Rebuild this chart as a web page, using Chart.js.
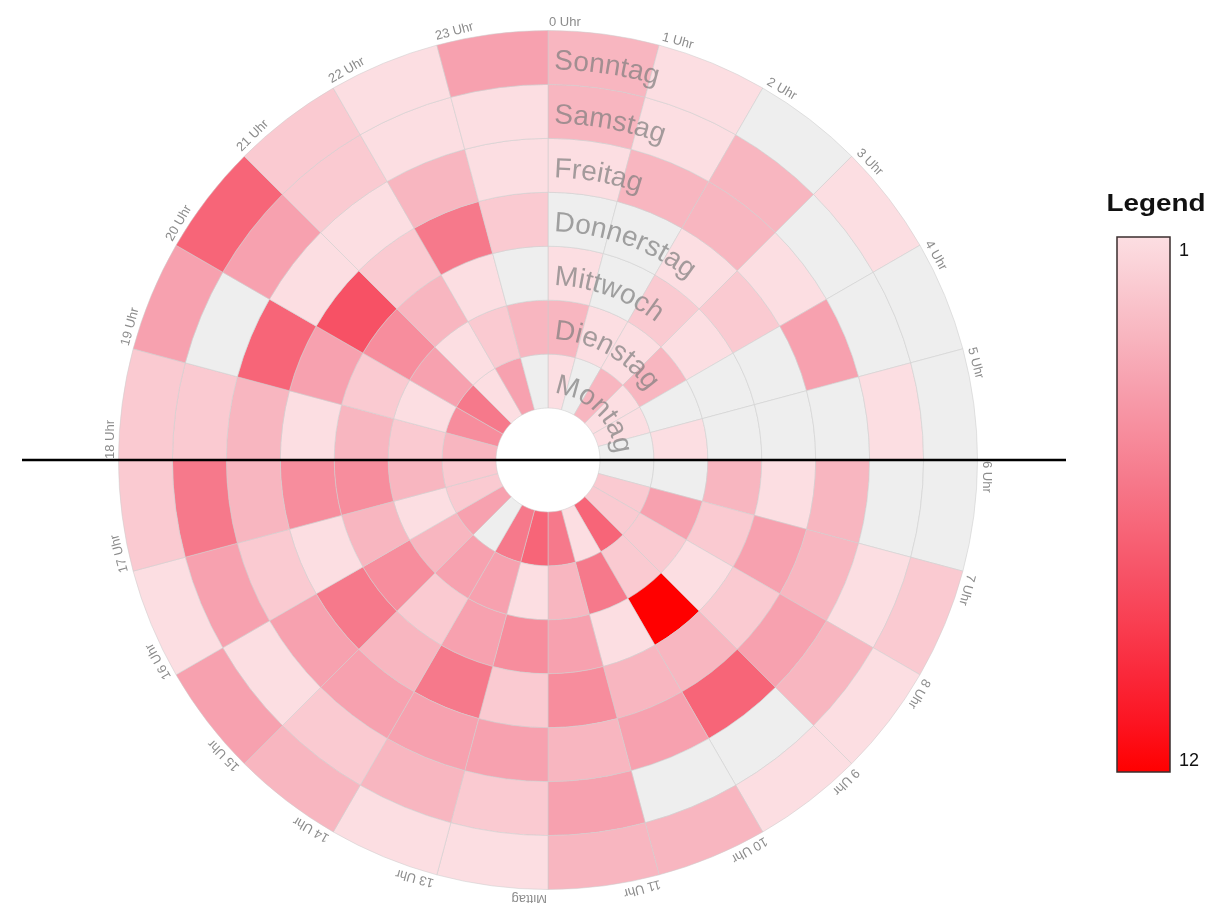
<!DOCTYPE html>
<html lang="de">
<head>
    <meta charset="UTF-8">
    <title>Wochen-Heatmap</title>
    <script src="https://cdn.jsdelivr.net/npm/chart.js"></script>
    <style>
        body {
            margin: 0;
            background: #fff;
            font-family: Arial, 'Liberation Sans', sans-serif;
        }
        .chart-container {
            position: relative;
            width: 1232px;
            height: 903px;
        }
    </style>
</head>
<body>
    <div class="chart-container">
        <canvas id="heatChart"></canvas>
    </div>

    <script>
        const hours = ['0 Uhr', '1 Uhr', '2 Uhr', '3 Uhr', '4 Uhr', '5 Uhr', '6 Uhr', '7 Uhr', '8 Uhr', '9 Uhr', '10 Uhr', '11 Uhr',
                       'Mittag', '13 Uhr', '14 Uhr', '15 Uhr', '16 Uhr', '17 Uhr', '18 Uhr', '19 Uhr', '20 Uhr', '21 Uhr', '22 Uhr', '23 Uhr'];
        // outer ring first (Chart.js draws dataset 0 outermost)
        const days = ['Sonntag', 'Samstag', 'Freitag', 'Donnerstag', 'Mittwoch', 'Dienstag', 'Montag'];

        // counts per hour 0..23, 0 = no entry (grey)
        const sonntag    = [3, 1, 0, 1, 0, 0, 0, 2, 1, 1, 3, 3, 1, 1, 3, 4, 1, 2, 2, 4, 7, 2, 1, 4];
        const samstag    = [3, 1, 3, 0, 0, 1, 0, 1, 3, 0, 0, 4, 2, 3, 2, 1, 4, 6, 2, 0, 4, 2, 1, 1];
        const freitag    = [1, 3, 3, 1, 4, 0, 3, 3, 4, 7, 4, 3, 4, 4, 4, 4, 2, 3, 3, 7, 1, 1, 3, 1];
        const donnerstag = [0, 0, 1, 2, 0, 0, 1, 4, 2, 3, 3, 5, 2, 6, 3, 6, 1, 5, 1, 4, 8, 2, 6, 2];
        const mittwoch   = [1, 0, 2, 1, 0, 0, 3, 2, 1, 12, 1, 4, 5, 4, 2, 5, 3, 5, 3, 2, 5, 3, 1, 0];
        const dienstag   = [3, 1, 1, 3, 0, 1, 0, 4, 2, 2, 6, 3, 1, 4, 4, 3, 1, 3, 2, 1, 4, 1, 2, 3];
        const montag     = [1, 0, 3, 1, 1, 0, 0, 2, 2, 7, 1, 6, 7, 6, 0, 4, 2, 2, 3, 5, 6, 1, 4, 0];

        const dayValues = [sonntag, samstag, freitag, donnerstag, mittwoch, dienstag, montag];
        const legendMin = 1;
        const legendMax = 12;

        function cellColor(v) {
            if (!v) return '#eeeeee';
            const t = (v - legendMin) / (legendMax - legendMin);
            const r = Math.round(252 + 3 * t - 28 * t * (1 - t));
            const g = Math.round(222 * (1 - t));
            const b = Math.round(226 * Math.pow(1 - t, 0.8));
            return `rgb(${r},${g},${b})`;
        }

        const datasets = days.map((day, i) => ({
            label: day,
            data: hours.map(() => 1),
            backgroundColor: dayValues[i].map(cellColor),
            borderColor: 'rgba(205,205,205,0.55)',
            borderWidth: 1,
            hoverOffset: 0
        }));

        const overlay = {
            id: 'overlay',
            afterDatasetsDraw(chart) {
                const ctx = chart.ctx;
                const outer = chart.getDatasetMeta(0).data;
                const cx = outer[0].x;
                const cy = outer[0].y;
                const R = outer[0].outerRadius;

                // day names, curved along each ring
                ctx.save();
                ctx.font = '28px Arial, "Liberation Sans", sans-serif';
                ctx.fillStyle = 'rgba(125,125,125,0.7)';
                ctx.textAlign = 'center';
                ctx.textBaseline = 'alphabetic';
                days.forEach((day, i) => {
                    const arc = chart.getDatasetMeta(i).data[0];
                    const r = arc.innerRadius + 15;
                    let a = arc.startAngle + Math.PI / 2 + 6 / r;
                    for (const ch of day) {
                        const w = ctx.measureText(ch).width;
                        a += w / 2 / r;
                        ctx.save();
                        ctx.translate(cx, cy);
                        ctx.rotate(a);
                        ctx.fillText(ch, 0, -r);
                        ctx.restore();
                        a += w / 2 / r;
                    }
                });
                ctx.restore();

                // hour labels round the outside
                ctx.save();
                ctx.font = '13px Arial, "Liberation Sans", sans-serif';
                ctx.fillStyle = '#8c8c8c';
                ctx.textAlign = 'left';
                ctx.textBaseline = 'alphabetic';
                outer.forEach((arc, i) => {
                    ctx.save();
                    ctx.translate(cx, cy);
                    ctx.rotate(arc.startAngle + Math.PI / 2);
                    ctx.fillText(hours[i], 1, -(R + 5));
                    ctx.restore();
                });
                ctx.restore();

                // horizontal black line
                ctx.save();
                ctx.strokeStyle = '#000';
                ctx.lineWidth = 2.5;
                ctx.beginPath();
                ctx.moveTo(cx - 526, cy);
                ctx.lineTo(cx + 518, cy);
                ctx.stroke();
                ctx.restore();

                // colour legend
                const bx = 1117, by = 237, bw = 53, bh = 535;
                ctx.save();
                const grad = ctx.createLinearGradient(0, by, 0, by + bh);
                for (let v = legendMin; v <= legendMax; v++) {
                    grad.addColorStop((v - legendMin) / (legendMax - legendMin), cellColor(v));
                }
                ctx.fillStyle = grad;
                ctx.fillRect(bx, by, bw, bh);
                ctx.strokeStyle = '#3a2e2e';
                ctx.lineWidth = 1.5;
                ctx.strokeRect(bx, by, bw, bh);

                ctx.fillStyle = '#111';
                ctx.font = 'bold 24px Arial, "Liberation Sans", sans-serif';
                ctx.textAlign = 'center';
                ctx.save();
                ctx.translate(1156, 211);
                ctx.scale(1.16, 1);
                ctx.fillText('Legend', 0, 0);
                ctx.restore();

                ctx.font = '18px Arial, "Liberation Sans", sans-serif';
                ctx.textAlign = 'left';
                ctx.fillText(String(legendMin), 1179, 256);
                ctx.fillText(String(legendMax), 1179, 766);
                ctx.restore();
            }
        };

        new Chart(document.getElementById('heatChart'), {
            type: 'doughnut',
            data: {
                labels: hours,
                datasets: datasets
            },
            options: {
                responsive: true,
                maintainAspectRatio: false,
                animation: false,
                cutout: 52,
                layout: {
                    padding: { left: 118, top: 30, right: 254, bottom: 13 }
                },
                plugins: {
                    legend: { display: false },
                    tooltip: { enabled: false }
                },
                events: []
            },
            plugins: [overlay]
        });
    </script>
</body>
</html>
